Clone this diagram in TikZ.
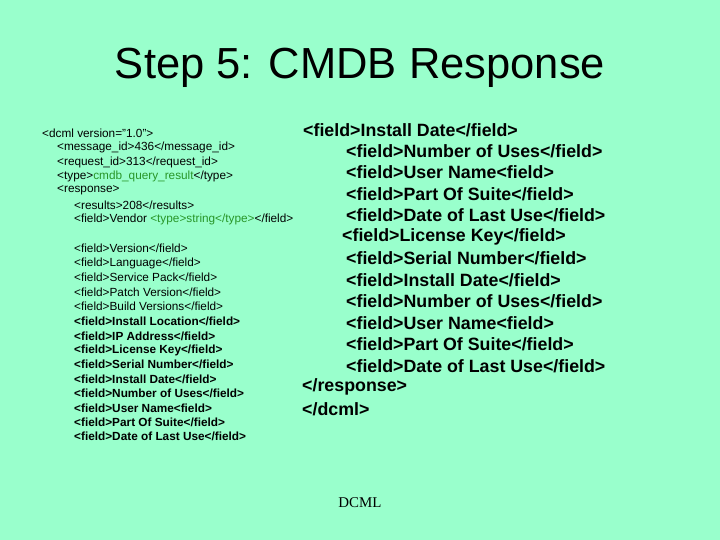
\documentclass[tikz,border=0pt]{standalone}
\usepackage{fontspec}
\setmainfont{Liberation Sans}
\newfontfamily\serifx{Liberation Serif}
\definecolor{bg}{RGB}{153,255,204}
\definecolor{gr}{RGB}{40,150,40}
\begin{document}
\begin{tikzpicture}[x=1pt,y=-1pt,
  sm/.style={anchor=west,inner sep=0pt,font=\fontsize{11.8}{13}\selectfont},
  smb/.style={sm,font=\fontsize{11.8}{13}\selectfont\bfseries},
  big/.style={anchor=west,inner sep=0pt,font=\fontsize{17.8}{20}\selectfont\bfseries}]
\fill[bg] (0,0) rectangle (720,540);
\useasboundingbox (0,0) rectangle (720,540);
\node[inner sep=0pt,font=\fontsize{43.5}{48}\selectfont] (title) at (360,68) {Step 5: CMDB Response};
\node[sm] (l1) at (42,133) {<dcml version="1.0">};
\node[sm] (l2) at (57,147) {<message\_id>436</message\_id>};
\node[sm] (l3) at (57,162) {<request\_id>313</request\_id>};
\node[sm] (l4) at (57,176) {<type>\textcolor{gr}{cmdb\_query\_result}</type>};
\node[sm] (l5) at (57,190) {<response>};
\node[sm] (l6) at (74,205) {<results>208</results>};
\node[sm] (l7) at (74,219) {<field>Vendor \textcolor{gr}{<type>string</type>}</field>};
\node[sm] (l8) at (74,248) {<field>Version</field>};
\node[sm] (l9) at (74,263) {<field>Language</field>};
\node[sm] (l10) at (74,277) {<field>Service Pack</field>};
\node[sm] (l11) at (74,292) {<field>Patch Version</field>};
\node[sm] (l12) at (74,306) {<field>Build Versions</field>};
\node[smb] (b1) at (74,321) {<field>Install Location</field>};
\node[smb] (b2) at (74,336) {<field>IP Address</field>};
\node[smb] (b3) at (74,350) {<field>License Key</field>};
\node[smb] (b4) at (74,364) {<field>Serial Number</field>};
\node[smb] (b5) at (74,379) {<field>Install Date</field>};
\node[smb] (b6) at (74,393) {<field>Number of Uses</field>};
\node[smb] (b7) at (74,408) {<field>User Name<field>};
\node[smb] (b8) at (74,422) {<field>Part Of Suite</field>};
\node[smb] (b9) at (74,436) {<field>Date of Last Use</field>};
\node[big] (r1) at (303,130) {<field>Install Date</field>};
\node[big] (r2) at (346,151) {<field>Number of Uses</field>};
\node[big] (r3) at (346,172) {<field>User Name<field>};
\node[big] (r4) at (346,194) {<field>Part Of Suite</field>};
\node[big] (r5) at (346,215) {<field>Date of Last Use</field>};
\node[big] (r6) at (342,237) {<field>License Key</field>};
\node[big] (r7) at (346,258) {<field>Serial Number</field>};
\node[big] (r8) at (346,280) {<field>Install Date</field>};
\node[big] (r9) at (346,301) {<field>Number of Uses</field>};
\node[big] (r10) at (346,323) {<field>User Name<field>};
\node[big] (r11) at (346,344) {<field>Part Of Suite</field>};
\node[big] (r12) at (346,366) {<field>Date of Last Use</field>};
\node[big] (r13) at (302,387) {</response>};
\node[big] (r14) at (302,409) {</dcml>};
\node[inner sep=0pt,font=\serifx\fontsize{14.9}{17}\selectfont] (foot) at (360,503) {DCML};
\end{tikzpicture}
\end{document}
